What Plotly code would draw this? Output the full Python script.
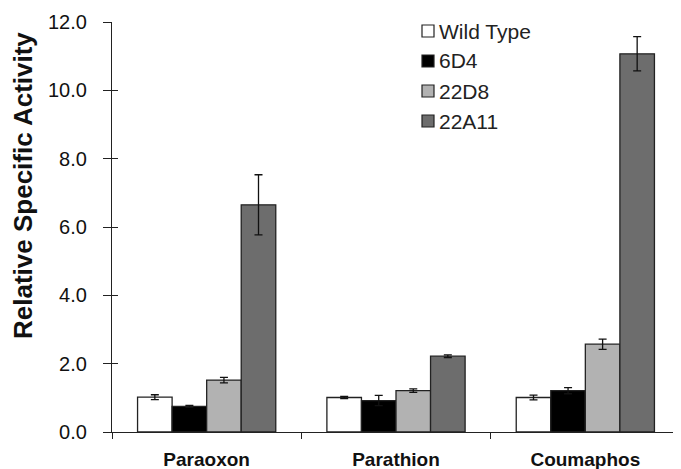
import plotly.graph_objects as go

categories = ["Paraoxon", "Parathion", "Coumaphos"]
series_names = ["Wild Type", "6D4", "22D8", "22A11"]
values = {
    "Wild Type": [1.02, 1.01, 1.01],
    "6D4": [0.75, 0.92, 1.21],
    "22D8": [1.52, 1.21, 2.57],
    "22A11": [6.65, 2.22, 11.07],
}
errors = {
    "Wild Type": [0.07, 0.03, 0.07],
    "6D4": [0.03, 0.15, 0.09],
    "22D8": [0.08, 0.05, 0.15],
    "22A11": [0.88, 0.04, 0.5],
}
colors = {"Wild Type": "#ffffff", "6D4": "#000000", "22D8": "#b2b2b2", "22A11": "#6d6d6d"}
y_ticks = [0, 2, 4, 6, 8, 10, 12]
y_tick_labels = ["0.0", "2.0", "4.0", "6.0", "8.0", "10.0", "12.0"]

FONT = "Liberation Sans, Arial, sans-serif"
OFF = 8  # page body margin
W, H = 681 - OFF, 469 - OFF
# target plot area in page pixels: x 112..680, y 22..432
L, R, T, B = 112 - OFF, (681 - OFF) - (680 - OFF), 22 - OFF, H - (432 - OFF)
PW, PH = W - L - R, H - T - B

def px_x(x):
    return (x - OFF - L) / PW

def px_y(y):
    return (H - B - (y - OFF)) / PH

fig = go.Figure()
for name in series_names:
    fig.add_trace(go.Bar(
        x=categories, y=values[name], name=name, showlegend=False,
        marker=dict(color=colors[name], line=dict(color="#222222", width=1.3)),
        error_y=dict(type="data", array=errors[name], color="#111111", thickness=1.3, width=4),
    ))

# overlay axis for inward half of crossing ticks
fig.add_trace(go.Scatter(x=[None], y=[None], yaxis="y2", showlegend=False, hoverinfo="skip"))

# manual legend (swatch + label), laid out in page pixels
shapes = []
annotations = []
for i, name in enumerate(series_names):
    cy = 31 + i * 30
    shapes.append(dict(
        type="rect", xref="paper", yref="paper",
        x0=px_x(422), x1=px_x(434), y0=px_y(cy + 6), y1=px_y(cy - 6),
        fillcolor=colors[name], line=dict(color="#222222", width=1.2),
    ))
    annotations.append(dict(
        text=name, xref="paper", yref="paper", x=px_x(437), y=px_y(cy),
        xanchor="left", yanchor="middle", showarrow=False,
        font=dict(size=21, family=FONT, color="#222222"),
    ))

annotations.append(dict(
    text="<b>Relative Specific Activity</b>", textangle=-90,
    xref="paper", yref="paper", x=px_x(23), y=px_y(186),
    xanchor="center", yanchor="middle", showarrow=False,
    font=dict(size=26, family=FONT, color="#111111"),
))

fig.update_layout(
    width=W, height=H,
    margin=dict(l=L, r=R, t=T, b=B, autoexpand=False),
    paper_bgcolor="white", plot_bgcolor="white",
    barmode="group", bargap=0.27, bargroupgap=0,
    font=dict(family=FONT, color="#111111"),
    showlegend=False,
    xaxis=dict(
        type="category", tickson="boundaries", automargin=False,
        showline=True, linecolor="#222222", linewidth=1.3,
        ticks="outside", ticklen=6, tickcolor="#222222", tickwidth=1.3,
        tickfont=dict(size=19, family=FONT, color="#111111", weight="bold"),
        ticklabelstandoff=10,
        showgrid=False, zeroline=False,
    ),
    yaxis=dict(
        range=[0, 12], tickvals=y_ticks, ticktext=y_tick_labels, automargin=False,
        showline=True, linecolor="#222222", linewidth=1.3,
        ticks="outside", ticklen=8, tickcolor="#222222", tickwidth=1.3,
        tickfont=dict(size=20, family=FONT, color="#111111"),
        showgrid=False, zeroline=False, ticklabelstandoff=12,
    ),
    yaxis2=dict(
        overlaying="y", range=[0, 12], tickvals=y_ticks, showticklabels=False,
        ticks="inside", ticklen=6, tickcolor="#222222", tickwidth=1.3, automargin=False,
        showline=False, showgrid=False, zeroline=False, side="left",
    ),
    shapes=shapes,
    annotations=annotations,
)

fig.write_html("out.html")
